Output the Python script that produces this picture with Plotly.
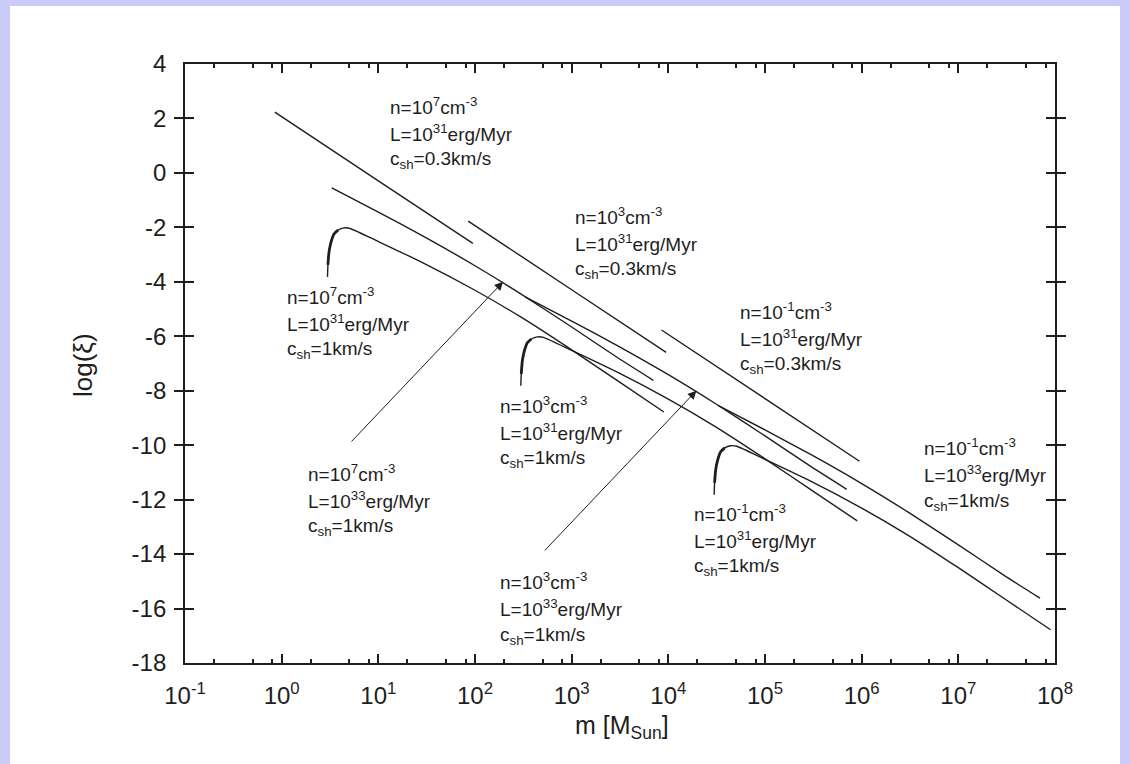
import numpy as np
import plotly.graph_objects as go

# Fragment mass spectra log(xi) versus fragment mass m [M_Sun]
# n = 1e7, 1e3, 1e-1 cm^-3 ; L = 1e31 / 1e33 erg/Myr ; c_sh = 0.3 / 1 km/s

# c_sh = 0.3 km/s, L = 1e31 erg/Myr
m_n7_c03 = [0.85, 10, 95]
xi_n7_c03 = [2.23, -0.29, -2.59]
m_n3_c03 = [85, 1000, 9500]
xi_n3_c03 = [-1.77, -4.29, -6.59]
m_n01_c03 = [8500, 1e5, 9.5e5]
xi_n01_c03 = [-5.77, -8.29, -10.59]

# c_sh = 1 km/s, L = 1e31 erg/Myr (curves with a turn-over at low mass)
m_n7_l31 = [2.98, 3.01, 3.09, 3.24, 3.48, 3.83, 4.42, 5.09, 10, 30, 100, 300, 1000, 3000, 9000]
xi_n7_l31 = [-3.82, -3.38, -2.90, -2.54, -2.24, -2.10, -2.02, -2.04, -2.52, -3.33, -4.31, -5.30, -6.50, -7.64, -8.78]
m_n3_l31 = [298, 301, 309, 324, 348, 383, 442, 509, 1e3, 3e3, 1e4, 3e4, 1e5, 3e5, 9e5]
xi_n3_l31 = [-7.82, -7.38, -6.90, -6.54, -6.24, -6.10, -6.02, -6.04, -6.52, -7.33, -8.31, -9.30, -10.50, -11.64, -12.78]
m_n01_l31 = [2.98e4, 3.01e4, 3.09e4, 3.24e4, 3.48e4, 3.83e4, 4.42e4, 5.09e4, 1e5, 3e5, 1e6, 3e6, 1e7, 3e7, 9e7]
xi_n01_l31 = [-11.82, -11.38, -10.90, -10.54, -10.24, -10.10, -10.02, -10.04, -10.52, -11.33, -12.31, -13.30, -14.50, -15.64, -16.78]

# c_sh = 1 km/s, L = 1e33 erg/Myr
m_n7_l33 = [3.3, 10, 30, 100, 300, 1000, 3000, 7000]
xi_n7_l33 = [-0.55, -1.44, -2.35, -3.41, -4.45, -5.66, -6.79, -7.62]
m_n3_l33 = [330, 1e3, 3e3, 1e4, 3e4, 1e5, 3e5, 7e5]
xi_n3_l33 = [-4.55, -5.44, -6.35, -7.41, -8.45, -9.66, -10.79, -11.62]
m_n01_l33 = [3.3e4, 1e5, 3e5, 1e6, 3e6, 1e7, 3e7, 7e7]
xi_n01_l33 = [-8.55, -9.44, -10.35, -11.41, -12.45, -13.66, -14.79, -15.62]

# arrows pointing from a label to its L = 1e33 curve: (tail m, tail logxi, head m, head logxi)
arrows = [
    (5.1, -9.92, 195, -4.0),
    (510, -13.92, 19500, -8.0),
]

label_text = [
    ("n=10<sup>7</sup>cm<sup>-3</sup>", "L=10<sup>31</sup>erg/Myr", "c<sub>sh</sub>=0.3km/s"),
    ("n=10<sup>3</sup>cm<sup>-3</sup>", "L=10<sup>31</sup>erg/Myr", "c<sub>sh</sub>=0.3km/s"),
    ("n=10<sup>-1</sup>cm<sup>-3</sup>", "L=10<sup>31</sup>erg/Myr", "c<sub>sh</sub>=0.3km/s"),
    ("n=10<sup>7</sup>cm<sup>-3</sup>", "L=10<sup>31</sup>erg/Myr", "c<sub>sh</sub>=1km/s"),
    ("n=10<sup>3</sup>cm<sup>-3</sup>", "L=10<sup>31</sup>erg/Myr", "c<sub>sh</sub>=1km/s"),
    ("n=10<sup>-1</sup>cm<sup>-3</sup>", "L=10<sup>31</sup>erg/Myr", "c<sub>sh</sub>=1km/s"),
    ("n=10<sup>7</sup>cm<sup>-3</sup>", "L=10<sup>33</sup>erg/Myr", "c<sub>sh</sub>=1km/s"),
    ("n=10<sup>3</sup>cm<sup>-3</sup>", "L=10<sup>33</sup>erg/Myr", "c<sub>sh</sub>=1km/s"),
    ("n=10<sup>-1</sup>cm<sup>-3</sup>", "L=10<sup>33</sup>erg/Myr", "c<sub>sh</sub>=1km/s"),
]
# left edge (log10 m) and first-line centre (logxi) of each label block
label_anchor = [
    (1.10, 2.46), (3.01, -1.58), (4.72, -5.07),
    (0.035, -4.52), (2.24, -8.52), (4.24, -12.49),
    (0.25, -11.02), (2.24, -14.99), (6.62, -10.07),
]

x_tick_vals = [1e-1, 1e0, 1e1, 1e2, 1e3, 1e4, 1e5, 1e6, 1e7, 1e8]
x_tick_text = ["10<sup>-1</sup>", "10<sup>0</sup>", "10<sup>1</sup>", "10<sup>2</sup>", "10<sup>3</sup>",
               "10<sup>4</sup>", "10<sup>5</sup>", "10<sup>6</sup>", "10<sup>7</sup>", "10<sup>8</sup>"]
x_minor_vals = [d * 10.0 ** e for e in range(-1, 8) for d in (2, 5, 8)]
y_tick_vals = [4, 2, 0, -2, -4, -6, -8, -10, -12, -14, -16, -18]
y_tick_text = ["4", "2", "0", "-2", "-4", "-6", "-8", "-10", "-12", "-14", "-16", "-18"]

FONT = "Liberation Sans, Arial, Helvetica, sans-serif"
INK = "#1e1e1e"
FRAME = "#cbcbf7"

fig = go.Figure()

series = [
    (m_n7_c03, xi_n7_c03), (m_n3_c03, xi_n3_c03), (m_n01_c03, xi_n01_c03),
    (m_n7_l31, xi_n7_l31), (m_n3_l31, xi_n3_l31), (m_n01_l31, xi_n01_l31),
    (m_n7_l33, xi_n7_l33), (m_n3_l33, xi_n3_l33), (m_n01_l33, xi_n01_l33),
]
for mx, yy in series:
    fig.add_trace(go.Scatter(x=mx, y=yy, mode="lines",
                             line=dict(color=INK, width=1.4, shape="spline", smoothing=0.6),
                             hoverinfo="skip", showlegend=False))

# the steep rise at the low-mass end of the L = 1e31, c_sh = 1 curves is drawn heavier
for mx, yy in [(m_n7_l31, xi_n7_l31), (m_n3_l31, xi_n3_l31), (m_n01_l31, xi_n01_l31)]:
    fig.add_trace(go.Scatter(x=mx[1:6], y=yy[1:6], mode="lines",
                             line=dict(color=INK, width=2.8, shape="spline", smoothing=0.6),
                             hoverinfo="skip", showlegend=False))

# invisible trace on a second x axis that only carries the minor log ticks
fig.add_trace(go.Scatter(x=[0.1, 1e8], y=[-18, 4], mode="markers", xaxis="x2",
                         marker=dict(opacity=0), hoverinfo="skip", showlegend=False))

annotations = []
for (tm, ty, hm, hy) in arrows:
    annotations.append(dict(x=np.log10(hm), y=hy, ax=np.log10(tm), ay=ty,
                            xref="x", yref="y", axref="x", ayref="y",
                            text="", showarrow=True, arrowhead=2, arrowsize=1.7,
                            arrowwidth=1.0, arrowcolor=INK, standoff=0, startstandoff=0))

LINE_STEP = 1.0
for lines, (lx, ly) in zip(label_text, label_anchor):
    for i, t in enumerate(lines):
        annotations.append(dict(x=lx, y=ly - i * LINE_STEP, xref="x", yref="y",
                                text=t, showarrow=False, xanchor="left", yanchor="middle",
                                font=dict(family=FONT, size=19, color=INK)))

# axis titles
annotations.append(dict(x=-0.1172, y=0.4975, xref="paper", yref="paper", text="log(ξ)",
                        textangle=-90, showarrow=False, xanchor="center", yanchor="middle",
                        font=dict(family=FONT, size=26, color=INK)))
annotations.append(dict(x=0.5023, y=-0.1068, xref="paper", yref="paper",
                        text="m [M<sub>Sun</sub>]", showarrow=False, xanchor="center", yanchor="middle",
                        font=dict(family=FONT, size=25, color=INK)))

# page frame: coloured strips along the top, left and right edges
frame = [
    dict(x0=-0.4, x1=1.4, y0=1.0968, y1=1.4),
    dict(x0=-0.4, x1=-0.2011, y0=-0.4, y1=1.4),
    dict(x0=1.0747, x1=1.4, y0=-0.4, y1=1.4),
]
shapes = [dict(type="rect", xref="paper", yref="paper", fillcolor=FRAME,
               line=dict(width=0), layer="below", **f) for f in frame]

fig.update_layout(
    width=1130, height=764,
    margin=dict(l=185, r=75, t=64, b=101),
    paper_bgcolor="white",
    plot_bgcolor="white",
    font=dict(family=FONT, color=INK),
    annotations=annotations,
    shapes=shapes,
    xaxis=dict(type="log", range=[-1, 8], tickmode="array", tickvals=x_tick_vals, ticktext=x_tick_text,
               ticks="inside", ticklen=9, tickwidth=1.5, tickcolor=INK,
               showline=True, linecolor=INK, linewidth=1.8, mirror="allticks",
               showgrid=False, zeroline=False, tickfont=dict(size=24, color=INK),
               ticklabelstandoff=10),
    xaxis2=dict(type="log", range=[-1, 8], overlaying="x", side="bottom", anchor="y",
                tickmode="array", tickvals=x_minor_vals, showticklabels=False,
                ticks="inside", ticklen=4, tickwidth=1.5, tickcolor=INK,
                showline=False, mirror="allticks", showgrid=False, zeroline=False),
    yaxis=dict(range=[-18, 4], tickmode="array", tickvals=y_tick_vals, ticktext=y_tick_text,
               ticks="inside", ticklen=9, tickwidth=1.5, tickcolor=INK,
               showline=True, linecolor=INK, linewidth=1.8, mirror="allticks",
               showgrid=False, zeroline=False, tickfont=dict(size=24, color=INK),
               ticklabelstandoff=12),
)

fig.write_html("out.html")
